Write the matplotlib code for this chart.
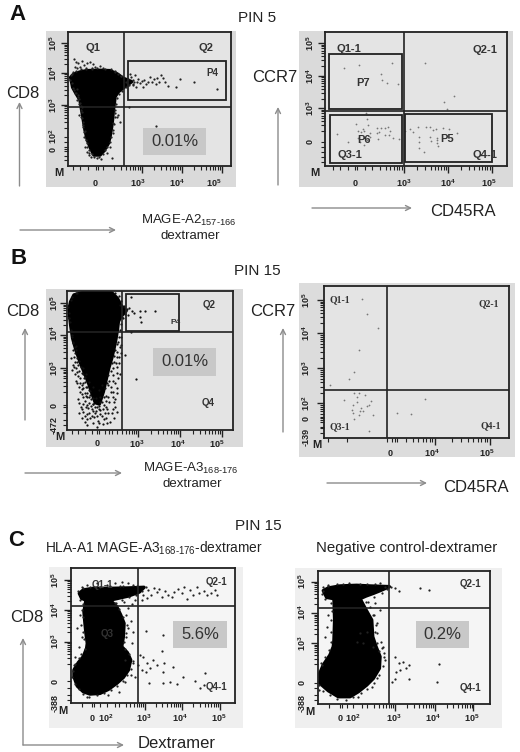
import numpy as np
import matplotlib
matplotlib.use('Agg')
import matplotlib.pyplot as plt
from matplotlib.patches import Rectangle, Polygon

plt.rcParams['font.family'] = ['Liberation Sans', 'DejaVu Sans']
plt.rcParams['mathtext.fontset'] = 'custom'
plt.rcParams['mathtext.rm'] = 'Liberation Sans'
plt.rcParams['mathtext.bf'] = 'Liberation Sans:bold'
plt.rcParams['mathtext.default'] = 'regular'

# all events are in display channels
# A left
a1_cloud = [(212,232),(222,222),(240,216),(260,212),(300,211),(330,212),(352,222),(370,235),(395,245),(372,262),
            (355,275),(345,290),(343,310),(340,330),(338,355),(335,380),(330,410),(325,430),(312,452),(300,465),
            (282,465),(272,445),(262,420),(255,390),(250,360),(245,330),(240,300),(228,280),(218,262)]
a1_edge = [(216,250),(220,265),(226,278),(233,285),(238,296),(236,312),(243,318),(246,335),(243,350),(249,365),
           (248,382),(254,392),(253,410),(260,428),(262,442),(268,450),(266,458),(276,462),(283,472),(296,470),
           (308,462),(316,450),(322,440),(330,425),(334,410),(338,390),(342,372),(344,352),(346,330),(348,312),
           (350,295),(358,282),(366,272),(378,262),(388,256),(398,252),(402,246),(210,240),(214,226),(228,212),
           (244,208),(258,206),(276,208),(292,205),(316,206),(332,208),(346,212),(362,228)]
a1_pts = [(222,178),(228,185),(235,190),(245,183),(252,195),(262,188),(270,185),(278,192),(285,200),(240,200),
          (232,205),(225,200),(258,205),(300,198),(275,205),(310,205),(220,215),(215,222),(345,215),(355,222),
          (362,228),(222,270),(228,280),(235,290),(232,300),(240,310),(242,330),(238,345),(245,355),(250,375),
          (252,395),(258,420),(255,440),(262,455),(268,465),(272,472),(345,340),(350,350),(338,400),(340,370),
          (355,345),(360,365),(330,440),(320,460),(335,475),(290,475),(302,478),(245,322),(232,268),(378,245),
          (385,238),(392,230),(398,240),(404,225),(410,245),(415,238),(420,250),(425,243),(432,240),(438,252),
          (445,245),(450,232),(455,247),(462,238),(468,252),(470,235),(478,245),(482,225),(490,235),(495,245),
          (505,258),(527,262),(540,238),(582,245),(652,267),(400,255),(408,262),(430,262),(385,255),(390,222),
          (387,320),(467,377)] + a1_edge
# A right
a2_pts = [(253,204),(296,196),(397,188),(364,223),(365,240),(382,249),(415,252),(494,188),(583,287),(551,305),
          (562,327),(318,340),(322,358),(325,376),(289,371),(231,403),(264,427),(311,394),(293,394),(303,396),
          (330,398),(310,388),(352,384),(362,384),(375,384),(385,380),(390,392),(352,400),(375,405),(358,396),
          (388,404),(400,414),(418,418),(355,416),(312,436),(295,415),(300,425),(320,420),(330,410),(435,392),
          (450,388),(460,396),(475,382),(497,380),(510,382),(518,390),(527,388),(548,383),(566,388),(590,400),
          (476,412),(477,425),(510,412),(512,422),(530,420),(530,430),(533,437),(476,445),(491,457),(530,415)]
# B left
b1_cloud = [(207,178),(212,155),(222,135),(250,127),(300,126),(335,128),(352,145),(362,165),(378,183),(362,200),
            (355,215),(352,240),(348,265),(342,295),(335,325),(326,355),(318,390),(310,425),(298,462),(286,458),
            (276,430),(266,400),(252,365),(240,335),(228,300),(218,265),(212,225)]
b1_edge = [(205,170),(208,190),(206,205),(212,240),(215,255),(220,275),(224,290),(226,310),(232,325),(234,345),
           (242,352),(246,370),(254,380),(256,395),(262,410),(268,420),(270,435),(278,445),(280,462),(290,472),
           (298,478),(305,455),(312,440),(316,415),(322,398),(324,375),(332,362),(336,340),(342,318),(346,300),
           (352,282),(356,262),(360,240),(362,222),(368,205),(376,192),(382,178),(372,168),(364,152),(356,138),
           (345,130),(228,128),(215,142)]
b1_lower = [(218,300),(214,325),(226,335),(222,350),(216,360),(230,365),(235,378),(228,392),(240,398),(236,412),
            (250,398),(248,415),(255,428),(245,432),(258,438),(238,458),(250,462),(266,442),(268,458),(258,472),
            (246,478),(272,468),(280,482),(268,488),(256,498),(245,505),(262,508),(275,498),(288,482),(292,498),
            (300,492),(308,478),(318,470),(324,488),(338,478),(312,508),(298,518),(322,520),(342,505),(350,485),
            (346,448),(338,425),(352,415),(340,392),(332,412),(325,440),(318,452),(360,372),(352,368),(348,338),
            (358,340),(362,310)]
b1_pts = [(393,140),(388,175),(395,182),(402,190),(420,182),(436,182),(465,183),(420,200),(423,216),(392,245),
          (362,285),(374,315),(407,387),(385,195),(378,180),(228,300),(222,320),(218,345),(232,335),(238,362),
          (225,372),(240,385),(232,400),(245,405),(252,385),(258,412),(240,425),(248,440),(235,448),(262,430),
          (270,422),(255,452),(242,470),(262,465),(272,448),(250,485),(238,490),(262,492),(275,478),(285,490),
          (270,505),(255,515),(280,520),(295,512),(305,498),(290,530),(310,522),(318,505),(330,515),(335,490),
          (322,478),(312,465),(328,455),(345,470),(340,440),(352,430),(332,425),(325,405),(345,400),(355,385),
          (338,375),(350,350),(342,335),(358,320),(352,305),(360,290),(362,262),(355,275),(300,480),(285,470),
          (268,395),(258,372),(250,355),(238,332),(228,288),(216,262),(218,280),(210,215),(206,205),(212,150),
          (230,130),(360,165),(372,172),(366,200),(300,440),(296,420),(318,438),(305,405),(278,412),(287,445),
          (265,475),(278,462),(342,455),(316,490),(296,468),(246,418),(260,442),(228,355),(248,372),(350,322),
          (338,355),(328,392),(300,455),(282,500),(262,525)] + b1_edge + b1_lower
# B right
b2_pts = [(305,147),(320,192),(354,233),(297,300),(281,366),(266,386),(210,405),(281,428),(297,428),(314,434),
          (290,440),(253,450),(291,455),(334,452),(280,465),(328,465),(320,468),(302,475),(275,480),(300,482),
          (310,482),(280,490),(298,494),(340,496),(282,506),(326,542),(495,446),(410,490),(452,493)]
# C left
c1_band = [(238,280),(250,270),(280,265),(340,265),(385,264),(432,262),(418,276),(385,288),(340,298),(330,302),
           (262,302),(245,295)]
c1_body = [(258,300),(330,300),(350,320),(362,345),(372,370),(370,410),(365,440),(382,458),(392,480),(385,510),
           (370,532),(350,550),(325,568),(300,580),(270,582),(250,575),(232,558),(222,530),(222,510),(235,488),
           (250,470),(260,445),(262,430),(258,400),(255,370),(252,335)]
c1_edge = [(240,300),(248,312),(246,330),(248,352),(244,375),(250,395),(252,418),(254,448),(244,462),(236,475),
           (226,492),(218,512),(216,532),(224,552),(236,568),(248,582),(268,590),(290,586),(312,580),(332,570),
           (352,558),(368,544),(380,526),(392,508),(398,482),(388,462),(376,446),(372,425),(378,398),(380,375),
           (368,350),(358,328),(348,310),(365,300),(388,292),(408,284),(425,272),(300,260),(270,260),(250,265),
           (235,272),(330,258),(360,258),(410,258)]
c1_pts = [(245,262),(262,255),(290,250),(320,255),(345,250),(365,245),(385,250),(400,255),(370,258),(438,262),
          (445,270),(452,285),(462,265),(470,275),(478,268),(486,290),(495,272),(505,285),(515,290),(522,275),
          (535,268),(545,278),(552,262),(562,298),(570,270),(578,285),(590,262),(598,278),(612,272),(622,285),
          (632,278),(645,270),(650,285),(430,285),(440,295),(425,300),(405,300),(395,312),(345,308),(372,305),
          (385,325),(378,345),(392,362),(400,395),(385,385),(378,410),(395,430),(240,345),(232,385),(245,410),
          (225,470),(238,440),(222,495),(375,480),(400,490),(405,530),(392,525),(420,465),(430,472),(442,490),
          (425,510),(438,515),(450,505),(415,495),(458,480),(472,495),(492,490),(488,515),(518,502),(548,530),
          (615,520),(448,550),(488,550),(510,545),(530,552),(585,543),(612,555),(600,565),(437,393),(488,405),
          (485,452),(358,575),(375,545),(262,590),(325,585)] + c1_edge
# C right
c2_band = [(190,272),(205,264),(240,258),(290,256),(330,258),(388,260),(360,272),(340,280),(318,288),(300,296),
           (222,296),(200,292)]
c2_body = [(222,296),(300,296),(318,330),(335,360),(338,410),(348,440),(360,470),(358,505),(340,535),(320,555),
           (295,575),(270,590),(235,590),(205,572),(180,550),(176,528),(190,495),(210,465),(220,440),(222,420),
           (224,360)]
c2_edge = [(212,310),(216,332),(214,360),(212,395),(214,425),(206,450),(196,472),(184,490),(172,515),(170,535),
           (176,555),(190,572),(210,585),(232,598),(258,600),(280,592),(302,580),(322,566),(342,548),(358,525),
           (368,498),(372,470),(358,452),(352,428),(350,400),(348,375),(342,345),(330,322),(318,305),(342,290),
           (365,278),(382,268),(188,262),(205,254),(232,252),(268,250),(300,252),(345,252),(185,282),(195,296)]
c2_pts = [(392,262),(405,265),(417,272),(480,265),(506,271),(404,470),(428,487),(416,490),(446,495),(408,515),
          (420,510),(437,505),(406,537),(397,546),(446,538),(538,492),(532,546),(372,460),(375,480),(368,440),
          (362,425),(345,395),(352,370),(340,345),(325,305),(345,310),(360,330),(205,345),(200,380),(195,410),
          (185,495),(170,540),(178,570),(350,535),(335,560),(295,590),(375,262),(360,250),(320,252),(250,252),
          (205,258),(190,272),(310,430),(290,425),(300,400),(320,395),(365,445),(340,440)] + c2_edge

panels = [
    dict(off=(0,0), bg=(138,93,708,560), box=(205,97,692,497), gx=371, gy=320, cloud=[a1_cloud], pts=a1_pts,
         ptc='#222222', xmaj=[425,545,665], ymaj=[315,218,130], xlin=[218,240,265,288,294,310], ylin=[410,425,440,448,452,468,480],
         xlab=[('0',284),('10$^3$',412),('10$^4$',532),('10$^5$',642)], xy=550,
         ylab=[('10$^5$',130),('10$^4$',218),('10$^3$',315),('10$^2$',410),('0',448)], yx=158, m=(176,520),
         rects=[(384,182,677,301)], face='#e4e4e4', bgc='#dadada'),
    dict(off=(260,0), bg=(118,93,758,562), box=(196,97,740,497), gx=431, gy=333, cloud=[], pts=a2_pts,
         ptc='#777777', xmaj=[431,565,695], ymaj=[325,228,130], xlin=[218,240,265,285,291,315], ylin=[425,440,455,470,485],
         xlab=[('0',285),('10$^3$',430),('10$^4$',565),('10$^5$',685)], xy=550,
         ylab=[('10$^5$',130),('10$^4$',228),('10$^3$',325),('0',425)], yx=150, m=(165,520),
         rects=[(206,161,426,327),(209,344,426,490),(436,342,696,487)], face='#e4e4e4', bgc='#dadada'),
    dict(off=(0,250), bg=(138,118,730,590), box=(201,123,700,540), gx=366, gy=246, cloud=[b1_cloud], pts=b1_pts,
         ptc='#111111', xmaj=[415,540,665], ymaj=[355,255,160], xlin=[215,235,255,275,291,296,315,335], ylin=[465,470,490,510,525],
         xlab=[('0',291),('10$^3$',410),('10$^4$',535),('10$^5$',650)], xy=582,
         ylab=[('10$^5$',160),('10$^4$',250),('10$^3$',355),('0',465),('-472',525)], yx=162, m=(180,560),
         rects=[(378,133,537,243)], face='#e4e4e4', bgc='#dadada'),
    dict(off=(260,250), bg=(118,98,765,620), box=(193,107,747,563), gx=380, gy=420, cloud=[], pts=b2_pts,
         ptc='#777777', xmaj=[525,690], ymaj=[460,355,250,150], xlin=[205,262,380,395,405], ylin=[505,510,530,548],
         xlab=[('0',390),('10$^4$',515),('10$^5$',680)], xy=610,
         ylab=[('10$^5$',150),('10$^4$',250),('10$^3$',355),('10$^2$',460),('0',505),('-139',560)], yx=138, m=(170,585),
         rects=[], face='#e4e4e4', bgc='#dcdcdc'),
    dict(off=(0,500), bg=(148,200,730,683), box=(213,205,704,610), gx=415, gy=318, cloud=[c1_band,c1_body], pts=c1_pts,
         ptc='#222222', xmaj=[435,545,660], ymaj=[425,330,240], xlin=[245,275,282,300,320,345], ylin=[543,565,585,600],
         xlab=[('0',277),('10$^2$',317),('10$^3$',430),('10$^4$',540),('10$^5$',655)], xy=655,
         ylab=[('10$^5$',240),('10$^4$',330),('10$^3$',425),('0',543),('-388',610)], yx=165, m=(188,632),
         rects=[], face='#f5f5f5', bgc='#efefef'),
    dict(off=(260,500), bg=(105,205,725,683), box=(174,212,690,612), gx=386, gy=325, cloud=[c2_band,c2_body], pts=c2_pts,
         ptc='#222222', xmaj=[405,525,640], ymaj=[430,340,245], xlin=[208,240,247,262,280,305], ylin=[548,565,585,600],
         xlab=[('0',240),('10$^2$',277),('10$^3$',400),('10$^4$',518),('10$^5$',635)], xy=655,
         ylab=[('10$^5$',245),('10$^4$',335),('10$^3$',430),('0',548),('-388',610)], yx=125, m=(150,635),
         rects=[], face='#f5f5f5', bgc='#efefef'),
]

gate_labels = [
    [('Q1',280,145,8),('Q2',617,145,8),('P4',636,218,7)],
    [('Q1-1',268,148,8),('Q2-1',674,150,8),('P7',310,248,8),('P6',313,420,8),('P5',561,418,8),('Q3-1',270,465,8),('Q4-1',674,465,8)],
    [('Q2',627,165,7),('P4',527,218,6),('Q4',625,460,7)],
    [('Q1-1',240,150,7),('Q2-1',686,160,7),('Q3-1',240,530,7),('Q4-1',692,527,7)],
    [('Q1-1',308,255,7),('Q2-1',648,247,7),('Q3',322,403,7),('Q4-1',648,560,7)],
    [('Q2-1',632,253,7),('Q4-1',632,563,7)],
]
pct_labels = {0:('0.01%',(430,383,617,465)), 2:('0.01%',(460,295,648,377)),
              4:('5.6%',(520,362,680,443)), 5:('0.2%',(468,362,627,443))}

W, H = 520, 752
fig = plt.figure(figsize=(5.2,7.52), dpi=100, facecolor='white')
fa = fig.add_axes([0,0,1,1], zorder=0)
fa.set_xlim(0,W)
fa.set_ylim(H,0)
fa.axis('off')


def log_minor(majors):
    out = []
    step = majors[1]-majors[0]
    prev = [majors[0]-step]+list(majors)
    for a, b in zip(prev[:-1], prev[1:]):
        for d in range(2,10):
            out.append(a+(b-a)*np.log10(d))
    return out


for i, p in enumerate(panels):
    ox, oy = p['off']
    b = p['bg']
    fa.add_patch(Rectangle((ox+b[0]/3,oy+b[1]/3),(b[2]-b[0])/3,(b[3]-b[1])/3,fc=p['bgc'],ec='none'))
    x0, y0, x1, y1 = p['box']
    l = (ox+x0/3)/W
    t = (oy+y1/3)/H
    ax = fig.add_axes([l,1-t,(x1-x0)/3/W,(y1-y0)/3/H], zorder=2, facecolor=p['face'])
    ax.set_xlim(x0,x1)
    ax.set_ylim(y1,y0)
    for s in ax.spines.values():
        s.set_linewidth(1.3)
        s.set_color('#222222')
    for c in p['cloud']:
        ax.add_patch(Polygon(c,closed=True,fc='black',ec='black',lw=2.5,joinstyle='round'))
    xs = [q[0] for q in p['pts']]
    ys = [q[1] for q in p['pts']]
    size = 2.6 if p['cloud'] else 1.6
    ax.scatter(xs,ys,s=size,c=p['ptc'],linewidths=0,zorder=3)
    ax.axvline(p['gx'],color='#222222',lw=1.2,zorder=4)
    ax.axhline(p['gy'],color='#222222',lw=1.2,zorder=4)
    for r in p['rects']:
        ax.add_patch(Rectangle((r[0],r[1]),r[2]-r[0],r[3]-r[1],fc='none',ec='#222222',lw=1.3,zorder=4))
    ax.set_xticks(p['xmaj'])
    ax.set_yticks(p['ymaj'])
    ax.set_xticks(log_minor(p['xmaj'])+p['xlin'],minor=True)
    ax.set_yticks(log_minor(p['ymaj'])+p['ylin'],minor=True)
    ax.set_xlim(x0,x1)
    ax.set_ylim(y1,y0)
    ax.tick_params(which='major',length=5,width=1,color='#222222',labelbottom=False,labelleft=False)
    ax.tick_params(which='minor',length=3.2,width=0.8,color='#222222')
    for s, x in p['xlab']:
        ax.text(x,p['xy'],s,ha='center',va='center',fontsize=6.5,fontweight='bold',color='#222222')
    for s, y in p['ylab']:
        ax.text(p['yx'],y,s,ha='center',va='center',rotation=90,fontsize=6.5,fontweight='bold',color='#222222')
    ax.text(p['m'][0],p['m'][1],'M',ha='center',va='center',fontsize=8,fontweight='bold',color='#222222')
    fam = 'Liberation Serif' if i == 3 else 'Liberation Sans'
    for s, x, y, fs in gate_labels[i]:
        ax.text(x,y,s,ha='center',va='center',fontsize=fs,fontweight='bold',color='#333333',family=fam,zorder=5)
    if i in pct_labels:
        s, r = pct_labels[i]
        ax.add_patch(Rectangle((r[0],r[1]),r[2]-r[0],r[3]-r[1],fc='#c8c8c8',ec='none',zorder=2))
        ax.text((r[0]+r[2])/2,(r[1]+r[3])/2,s,ha='center',va='center',fontsize=12,color='#333333',zorder=5)

# letters, titles, axis names
for s, x, y in [('A',18,14),('B',19,259),('C',16,540)]:
    fa.text(x,y,s,ha='center',va='center',fontsize=16,fontweight='bold',color='#111111')
for s, x, y in [('PIN 5',257,18),('PIN 15',257,271),('PIN 15',258,526)]:
    fa.text(x,y,s,ha='center',va='center',fontsize=11,color='#222222')
for s, x, y in [('CD8',23,94),('CD8',23,311),('CD8',27,618),('CCR7',275,77),('CCR7',273,312),
                ('CD45RA',463,211),('CD45RA',476,487),('Dextramer',177,743)]:
    fa.text(x,y,s,ha='center',va='center',fontsize=12,color='#222222')
for s, x, y, fs in [('MAGE-A2$_{157\\text{-}166}$',189,220,9.5),('dextramer',190,236,9.5),
                    ('MAGE-A3$_{168\\text{-}176}$',191,468,9.5),('dextramer',192,484,9.5),
                    ('HLA-A1 MAGE-A3$_{168\\text{-}176}$-dextramer',154,548,9.9),
                    ('Negative control-dextramer',407,548,10.8)]:
    fa.text(x,y,s,ha='center',va='center',fontsize=fs,color='#222222')

arrows = [((19.5,186),(19.5,102)),((20,230),(116,230)),((278,185),(278,107)),((312,208),(412,208)),
          ((25,420),(25,328)),((25,473),(122,473)),((283,432),(283,328)),((327,483),(427,483)),
          ((23,745),(23,638)),((23,745),(124,745))]
for a, c in arrows:
    fa.annotate('',xy=c,xytext=a,arrowprops=dict(arrowstyle='->',color='#8c8c8c',lw=1,shrinkA=0,shrinkB=0,mutation_scale=9))

fig.savefig('out.png',dpi=100)
